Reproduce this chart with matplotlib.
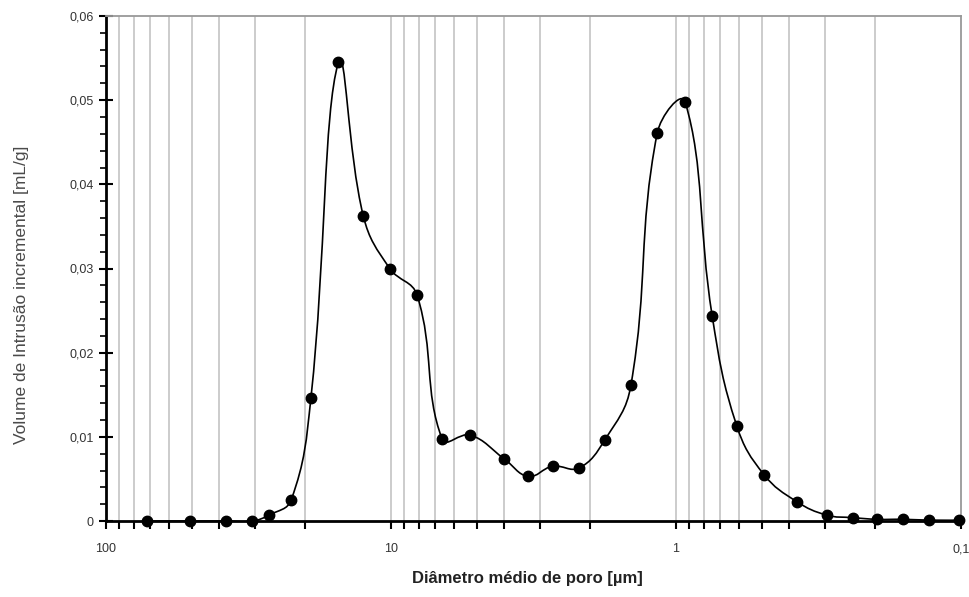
import numpy as np
import matplotlib
matplotlib.use("Agg")
import matplotlib.pyplot as plt
from matplotlib.path import Path
from matplotlib.patches import PathPatch
from matplotlib.ticker import FixedLocator, FuncFormatter, MultipleLocator

plt.rcParams['font.family'] = ['Liberation Sans', 'DejaVu Sans']

# Data: pore diameter [µm] and incremental intrusion volume [mL/g]
diameter = [71.8, 50.7, 37.9, 30.7, 26.8, 22.4, 19.1, 15.3, 12.5, 10.1, 8.09,
            6.61, 5.27, 4.01, 3.30, 2.71, 2.19, 1.78, 1.44, 1.164, 0.929,
            0.746, 0.612, 0.491, 0.377, 0.296, 0.240, 0.197, 0.160, 0.129, 0.102]
volume = [0.0, 0.0, 0.0, 0.0, 0.0007, 0.0025, 0.0146, 0.0545, 0.0362, 0.0300, 0.0268,
          0.0097, 0.0102, 0.0074, 0.0053, 0.0065, 0.0063, 0.0096, 0.0161, 0.0461, 0.0498,
          0.0243, 0.0113, 0.0055, 0.0023, 0.0007, 0.0004, 0.0002, 0.0002, 0.0001, 0.0001]

x_major = [100, 10, 1, 0.1]
x_major_labels = ['100', '10', '1', '0,1']
grid_values = [m * d for d in (10, 1, 0.1) for m in range(2, 10)] + [10, 1]

fig = plt.figure(figsize=(9.7, 5.97), dpi=100)
ax = fig.add_axes([106 / 970, 1 - 521 / 597, (961 - 106) / 970, (521 - 16) / 597])

ax.set_xscale('log')
ax.set_xlim(100, 0.1)
ax.set_ylim(0, 0.06)

# vertical grid lines
for g in grid_values:
    ax.axvline(g, color='#c8c8c8', lw=1.3, zorder=1)

# smooth curve: cubic Bezier with length-weighted tangents computed in display space
P = ax.transData.transform(np.column_stack([diameter, volume]))
n = len(P)
s = 0.42
outc = np.zeros_like(P)
inc = np.zeros_like(P)
for i in range(n):
    if i == 0 or i == n - 1:
        outc[i] = P[i]
        inc[i] = P[i]
        continue
    T = P[i + 1] - P[i - 1]
    dp = np.hypot(*(P[i] - P[i - 1]))
    dn = np.hypot(*(P[i + 1] - P[i]))
    tot = dp + dn if dp + dn > 0 else 1.0
    outc[i] = P[i] + T * s * dn / tot
    inc[i] = P[i] - T * s * dp / tot
verts = [P[0]]
codes = [Path.MOVETO]
for i in range(n - 1):
    verts += [outc[i], inc[i + 1], P[i + 1]]
    codes += [Path.CURVE4] * 3
verts = ax.transData.inverted().transform(np.array(verts))
patch = PathPatch(Path(verts, codes), facecolor='none', edgecolor='black', lw=1.2, zorder=3)
ax.add_patch(patch)

ax.plot(diameter, volume, 'o', color='black', ms=7.5, zorder=4, clip_on=False)

# axes styling
for sp in ['top', 'right']:
    ax.spines[sp].set_color('#999999')
    ax.spines[sp].set_linewidth(1.3)
for sp in ['left', 'bottom']:
    ax.spines[sp].set_color('black')
    ax.spines[sp].set_linewidth(2.0)

ax.xaxis.set_major_locator(FixedLocator(x_major))
ax.xaxis.set_minor_locator(FixedLocator(grid_values))
ax.xaxis.set_major_formatter(FuncFormatter(
    lambda v, p: x_major_labels[int(np.argmin([abs(np.log10(m) - np.log10(v)) for m in x_major]))]))
ax.xaxis.set_minor_formatter(FuncFormatter(lambda v, p: ''))
ax.tick_params(axis='x', which='both', direction='out', length=6, width=1.5, colors='black',
               labelsize=9, pad=10, labelcolor='#333333')

ax.yaxis.set_major_locator(MultipleLocator(0.01))
ax.yaxis.set_minor_locator(MultipleLocator(0.002))
ax.yaxis.set_major_formatter(FuncFormatter(
    lambda v, p: '0' if abs(v) < 1e-9 else ('%.2f' % v).replace('.', ',')))
ax.tick_params(axis='y', which='major', direction='inout', length=10, width=1.5, labelsize=9,
               pad=4, labelcolor='#333333')
ax.tick_params(axis='y', which='minor', direction='out', length=4, width=1.2)

ax.set_xlabel('Diâmetro médio de poro [µm]', fontsize=12, fontweight='bold', color='#222222')
ax.xaxis.set_label_coords((527 - 106) / (961 - 106), -(579 - 521) / (521 - 16), transform=ax.transAxes)
ax.set_ylabel('Volume de Intrusão incremental [mL/g]', fontsize=12.5, color='#4a4a4a')
ax.yaxis.set_label_coords(-(106 - 22) / (961 - 106), (521 - 295) / (521 - 16), transform=ax.transAxes)
ax.yaxis.label.set_va('center')
ax.xaxis.label.set_va('center')

fig.savefig('out.png', dpi=100)
